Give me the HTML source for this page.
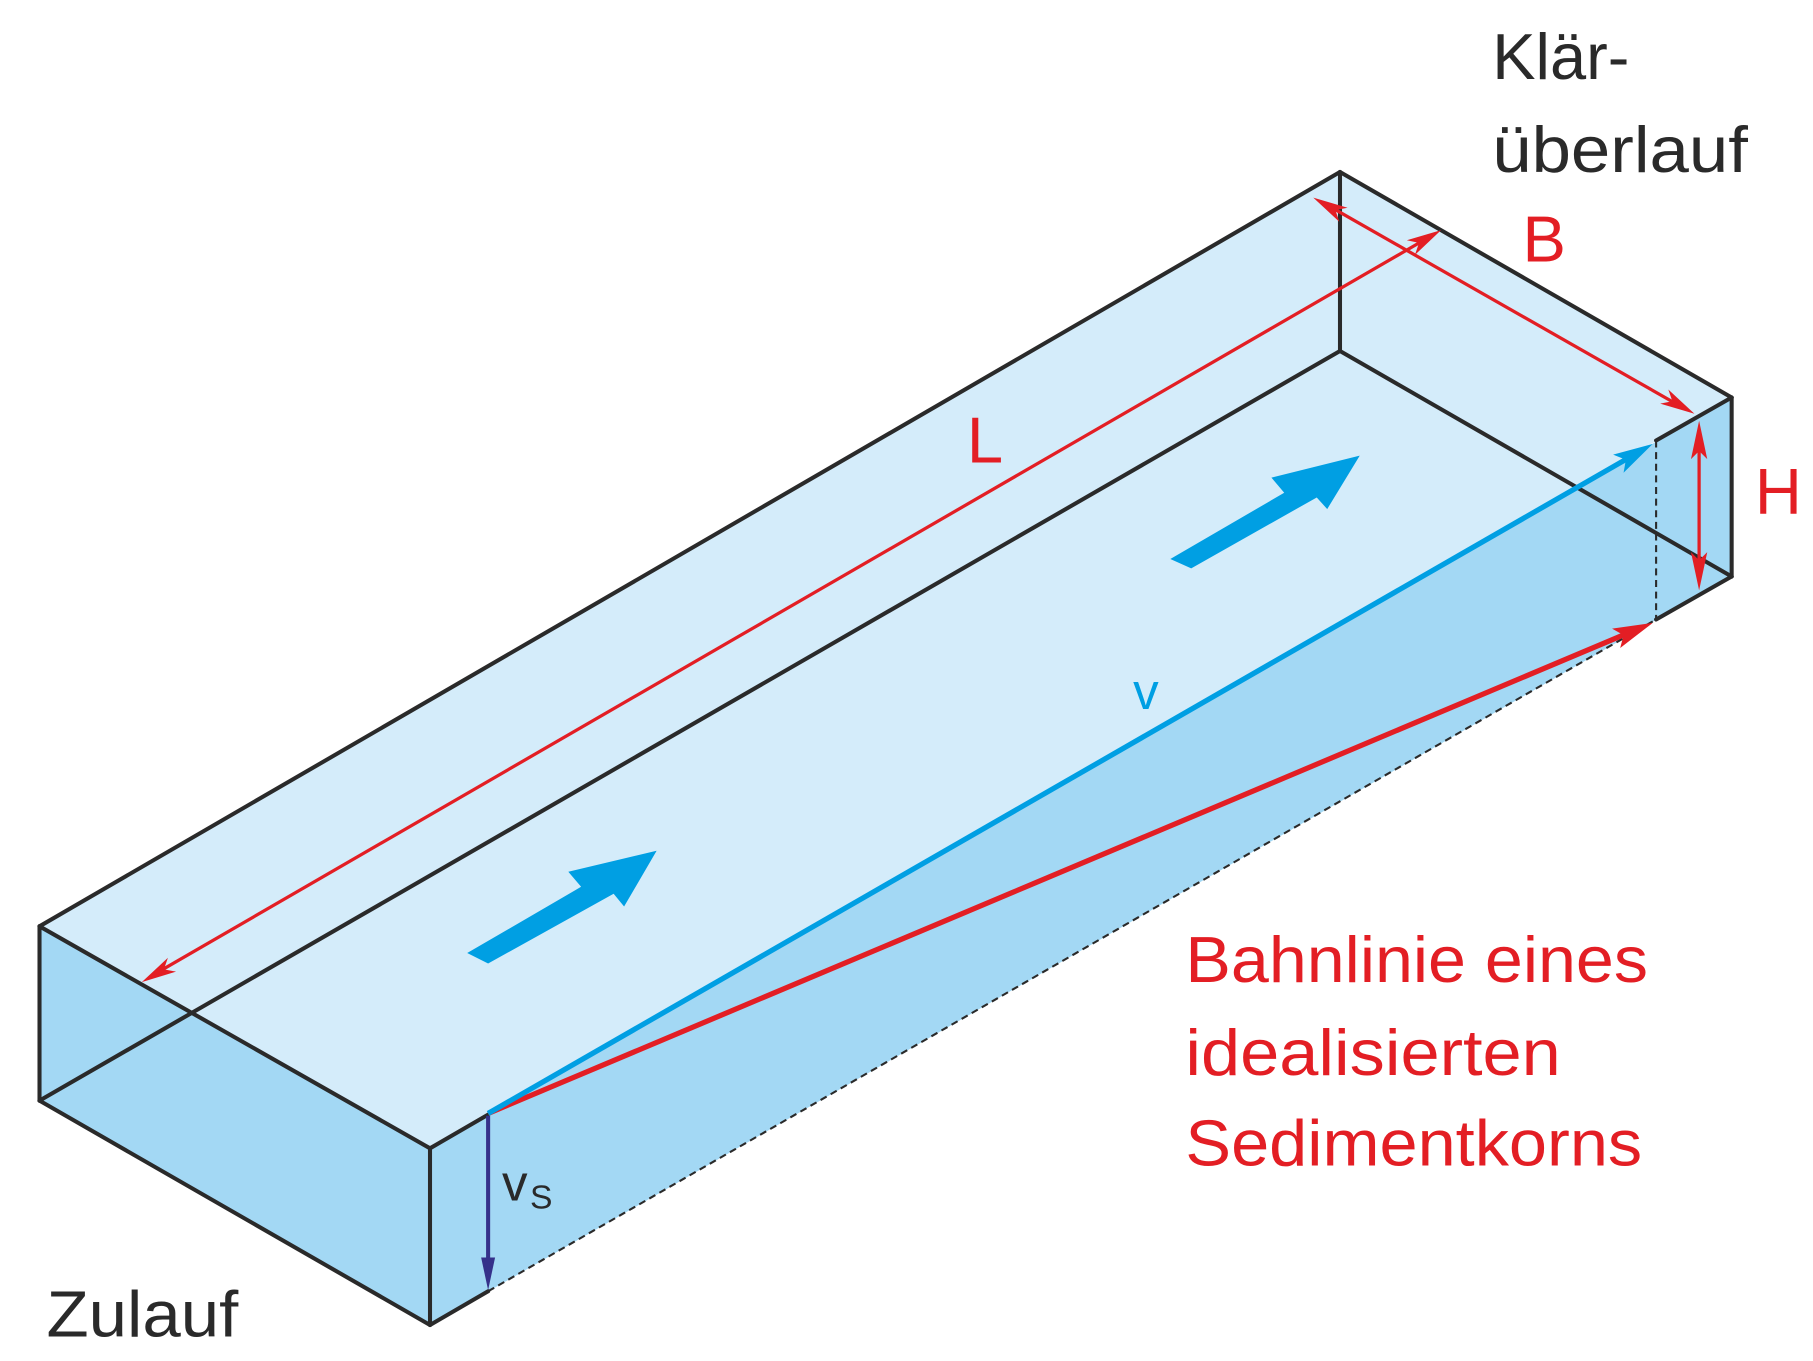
<!DOCTYPE html>
<html><head><meta charset="utf-8"><style>
html,body{margin:0;padding:0;background:#fff;}
svg{display:block;}
text{font-family:"Liberation Sans","DejaVu Sans",sans-serif;}
</style></head><body>
<svg width="1813" height="1361" viewBox="0 0 1560 1171" preserveAspectRatio="none" xmlns="http://www.w3.org/2000/svg">
<!-- faces -->
<polygon points="34,797 1153,148 1490,342 370,988" fill="#d4ecfa"/>
<polygon points="34,797 370,988 370,1140 34,947" fill="#a3d8f4"/>
<polygon points="420,958 1425,380 1490,342 1490,496 370,1140 370,988" fill="#a3d8f4"/>
<polygon points="1425,380 1490,342 1490,496 1425,533" fill="#a3d8f4"/>
<!-- edges -->
<g stroke="#2a2a2a" stroke-width="3.5" fill="none" stroke-linecap="round">
<line x1="34" y1="797" x2="1153" y2="148"/>
<line x1="1153" y1="148" x2="1490" y2="342"/>
<line x1="1490" y1="342" x2="1490" y2="496"/>
<line x1="34" y1="797" x2="34" y2="947"/>
<line x1="34" y1="797" x2="370" y2="988"/>
<line x1="370" y1="988" x2="370" y2="1140"/>
<line x1="34" y1="947" x2="370" y2="1140"/>
<line x1="34" y1="947" x2="1153" y2="302"/>
<line x1="1153" y1="302" x2="1490" y2="496"/>
<line x1="1153" y1="148" x2="1153" y2="302"/>
<line x1="370" y1="988" x2="420" y2="959"/>
<line x1="1425" y1="379" x2="1490" y2="342"/>
<line x1="1425" y1="533" x2="1490" y2="496"/>
<line x1="370" y1="1140" x2="420" y2="1111"/>
</g>
<g stroke="#2a2a2a" stroke-width="1.8" stroke-dasharray="6,4" fill="none">
<line x1="420" y1="1111" x2="1425" y2="533"/>
<line x1="1425" y1="379" x2="1425" y2="533"/>
</g>
<!-- red dimension lines -->
<g stroke="#e31e24" stroke-width="2.8" fill="none">
<line x1="135" y1="837" x2="1228" y2="205"/>
<line x1="1143" y1="177" x2="1445" y2="349"/>
<line x1="1462" y1="375" x2="1462" y2="495"/>
</g>
<g fill="#e31e24">
<polygon points="122,845 151.5,836 141,834 144.5,824"/>
<polygon points="1240,198 1217.5,219.3 1221,209 1210.5,206.7"/>
<polygon points="1130,170 1152.5,190.9 1149,180.8 1159.5,178.7"/>
<polygon points="1458,356 1428.5,347.3 1439,345.2 1435.5,335.1"/>
<polygon points="1462,362 1469,395 1462,388 1455,395"/>
<polygon points="1462,508 1469,475 1462,482 1455,475"/>
</g>
<!-- trajectory -->
<line x1="420" y1="958" x2="1400" y2="545" stroke="#e31e24" stroke-width="4.5"/>
<polygon points="1422,536 1394.1,557.5 1397,546.5 1387.1,540.9" fill="#e31e24"/>
<line x1="420" y1="958" x2="1403" y2="393" stroke="#009fe3" stroke-width="4.5"/>
<polygon points="1422,382 1397,406.8 1399,395.6 1388,391.2" fill="#009fe3"/>
<line x1="420" y1="960" x2="420" y2="1090" stroke="#35318a" stroke-width="3.5"/>
<polygon points="420,1110 414,1082 426,1082" fill="#35318a"/>
<!-- big flow arrows -->
<polygon points="402,820 500,763 489,750 565,732 537,780 528,769 420,829" fill="#009fe3"/>
<polygon points="1007,481 1105,424 1094,411 1170,392 1142,438 1133,428 1025,489" fill="#009fe3"/>
<!-- text -->
<g font-size="56">
<text x="1284" y="68" fill="#2a2a2a" textLength="118" lengthAdjust="spacingAndGlyphs">Klär-</text>
<text x="1284" y="148" fill="#2a2a2a" textLength="220" lengthAdjust="spacingAndGlyphs">überlauf</text>
<text x="1310" y="225" fill="#e31e24">B</text>
<text x="832" y="398" fill="#e31e24">L</text>
<text x="1510" y="442" fill="#e31e24">H</text>
<text x="975" y="610" fill="#009fe3" font-size="44">v</text>
<text x="432" y="1033" fill="#2a2a2a" font-size="44">v</text>
<text x="456" y="1040" fill="#2a2a2a" font-size="29">S</text>
<text x="40" y="1150" fill="#2a2a2a" textLength="165" lengthAdjust="spacingAndGlyphs">Zulauf</text>
<text x="1020" y="845" fill="#e31e24" textLength="398" lengthAdjust="spacingAndGlyphs">Bahnlinie eines</text>
<text x="1020" y="925" fill="#e31e24" textLength="323" lengthAdjust="spacingAndGlyphs">idealisierten</text>
<text x="1020" y="1003" fill="#e31e24" textLength="393" lengthAdjust="spacingAndGlyphs">Sedimentkorns</text>
</g>
</svg>
</body></html>
